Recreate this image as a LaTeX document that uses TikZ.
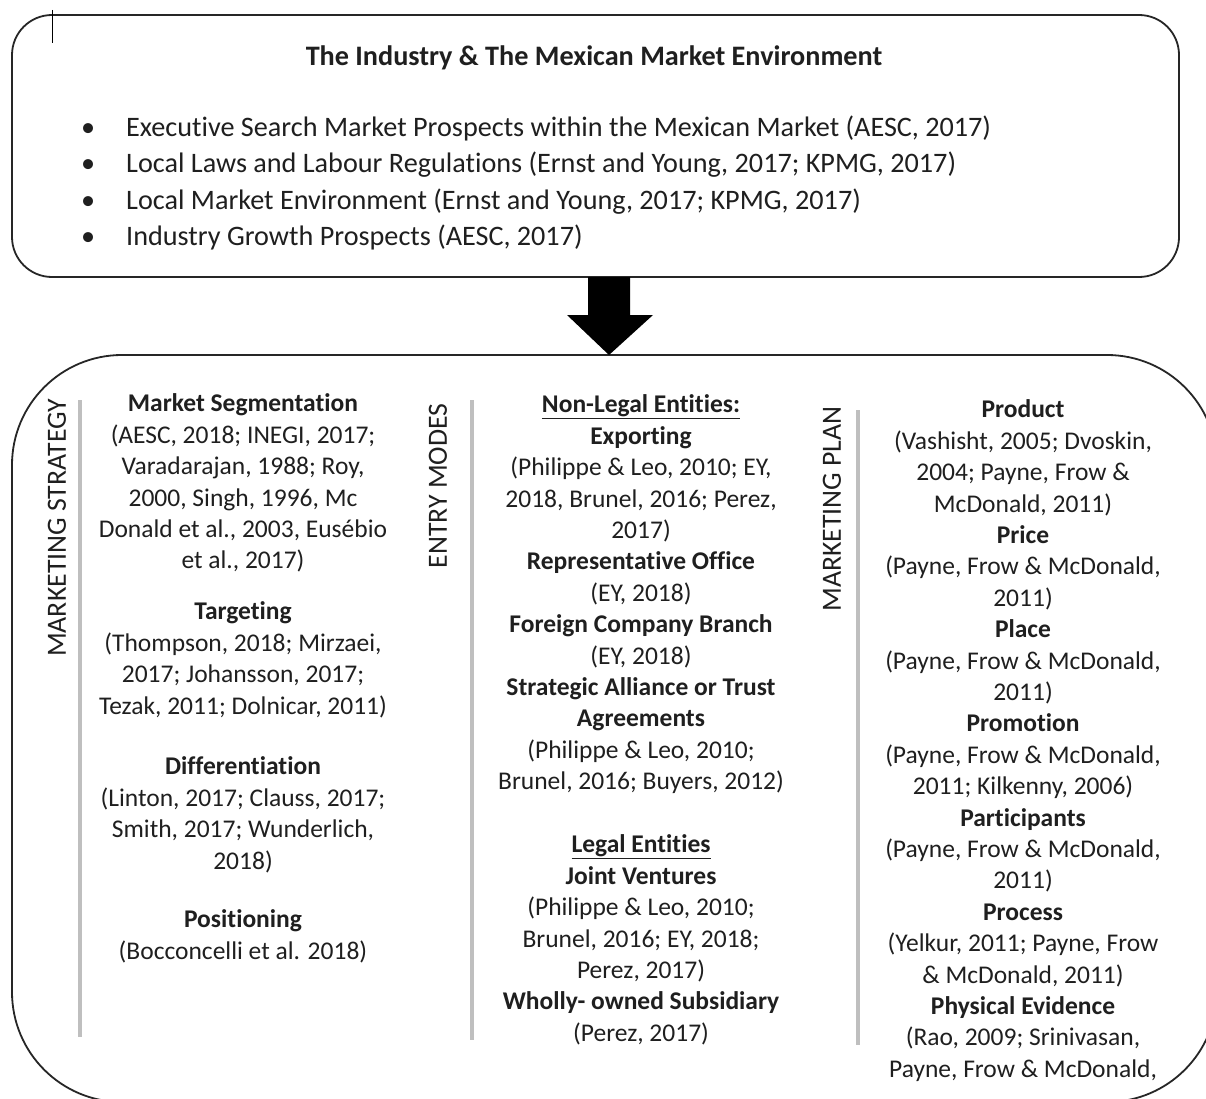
\documentclass[tikz,border=0pt]{standalone}
\usepackage{fontspec}
\setmainfont{Carlito}[Ligatures=CommonOff]
\usetikzlibrary{calc}
\begin{document}
\begin{tikzpicture}[x=1pt,y=-1pt,
  boxline/.style={line width=1.8pt, draw=black!85},
  sepline/.style={line width=4pt, draw=black!25},
  coltext/.style={anchor=north, inner sep=0pt, align=center, text=black!88,
     font=\fontsize{25.5}{31.4}\selectfont},
  sidelabel/.style={rotate=90, inner sep=0pt, text=black!88,
     font=\fontsize{27.8}{32}\selectfont},
  arrowfill/.style={fill=black}
]
\useasboundingbox (0,0) rectangle (1206,1099);
\fill[white] (0,0) rectangle (1206,1099);

% top box
\draw[boxline, rounded corners=40pt] (12,15) rectangle (1179,277);
\coordinate (envS) at (609,277);
\draw[line width=1pt] (52,10) -- (52,43);

\node[anchor=base, inner sep=0pt, text=black!88, font=\fontsize{28.2}{31}\selectfont\bfseries] (title) at (594,66)
  {The Industry \& The Mexican Market Environment};

\node[anchor=north west, inner sep=0pt, align=left, text=black!88,
      font=\fontsize{28.2}{36.2}\selectfont] (bullets) at (88,115.5)
 {\rule{0pt}{21pt}\makebox[0pt][c]{•}\hspace{38pt}Executive Search Market Prospects within the Mexican Market (AESC, 2017)\\
  \makebox[0pt][c]{•}\hspace{38pt}Local Laws and Labour Regulations (Ernst and Young, 2017; KPMG, 2017)\\
  \makebox[0pt][c]{•}\hspace{38pt}Local Market Environment (Ernst and Young, 2017; KPMG, 2017)\\
  \makebox[0pt][c]{•}\hspace{38pt}Industry Growth Prospects (AESC, 2017)};

% bottom box
\draw[boxline, rounded corners=110pt] (12,355) rectangle (1217,1102);
\coordinate (mktN) at (609,355);

% arrow from top box to bottom box
\fill[arrowfill] ($(envS)+(-21,0)$) -- ($(envS)+(21,0)$) -- ($(envS)+(21,38)$) -- ($(envS)+(44,38)$)
   -- (mktN) -- ($(envS)+(-42,38)$) -- ($(envS)+(-21,38)$) -- cycle;

% side labels
\node[sidelabel] (ms) at (57,528) {MARKETING STRATEGY};
\node[sidelabel] (em) at (438,486) {ENTRY MODES};
\node[sidelabel] (mp) at (832,509) {MARKETING PLAN};

% separators
\coordinate (s1a) at (80,400);  \coordinate (s1b) at (80,1037);
\coordinate (s2a) at (472,400); \coordinate (s2b) at (472,1040);
\coordinate (s3a) at (858,410); \coordinate (s3b) at (858,1045);
\draw[sepline] (s1a) -- (s1b);
\draw[sepline] (s2a) -- (s2b);
\draw[sepline] (s3a) -- (s3b);

% column 1
\node[coltext] (seg) at (243,392.7) {\rule{0pt}{19pt}\textbf{Market Segmentation}\\(AESC, 2018; INEGI, 2017;\\Varadarajan, 1988; Roy,\\2000, Singh, 1996, Mc\\Donald et al., 2003, Eusébio\\et al., 2017)};
\node[coltext] (tgt) at (243,600.7) {\rule{0pt}{19pt}\textbf{Targeting}\\(Thompson, 2018; Mirzaei,\\2017; Johansson, 2017;\\Tezak, 2011; Dolnicar, 2011)};
\node[coltext] (dif) at (243,755.7) {\rule{0pt}{19pt}\textbf{Differentiation}\\(Linton, 2017; Clauss, 2017;\\Smith, 2017; Wunderlich,\\2018)};
\node[coltext] (pos) at (243,908.7) {\rule{0pt}{19pt}\textbf{Positioning}\\(Bocconcelli et al. 2018)};

% column 2
\node[coltext] (nle) at (641,393.7) {\rule{0pt}{19pt}\textbf{\underline{Non-Legal Entities:}}\\\textbf{Exporting}\\(Philippe \& Leo, 2010; EY,\\2018, Brunel, 2016; Perez,\\2017)\\\textbf{Representative Office}\\(EY, 2018)\\\textbf{Foreign Company Branch}\\(EY, 2018)\\\textbf{Strategic Alliance or Trust}\\\textbf{Agreements}\\(Philippe \& Leo, 2010;\\Brunel, 2016; Buyers, 2012)};
\node[coltext] (le) at (641,833.7) {\rule{0pt}{19pt}\textbf{\underline{Legal Entities}}\\\textbf{Joint Ventures}\\(Philippe \& Leo, 2010;\\Brunel, 2016; EY, 2018;\\Perez, 2017)\\\textbf{Wholly- owned Subsidiary}\\(Perez, 2017)};

% column 3
\node[coltext] (plan) at (1023,398.7) {\rule{0pt}{19pt}\textbf{Product}\\(Vashisht, 2005; Dvoskin,\\2004; Payne, Frow \&\\McDonald, 2011)\\\textbf{Price}\\(Payne, Frow \& McDonald,\\2011)\\\textbf{Place}\\(Payne, Frow \& McDonald,\\2011)\\\textbf{Promotion}\\(Payne, Frow \& McDonald,\\2011; Kilkenny, 2006)\\\textbf{Participants}\\(Payne, Frow \& McDonald,\\2011)\\\textbf{Process}\\(Yelkur, 2011; Payne, Frow\\\& McDonald, 2011)\\\textbf{Physical Evidence}\\(Rao, 2009; Srinivasan,\\Payne, Frow \& McDonald,};
\end{tikzpicture}
\end{document}
